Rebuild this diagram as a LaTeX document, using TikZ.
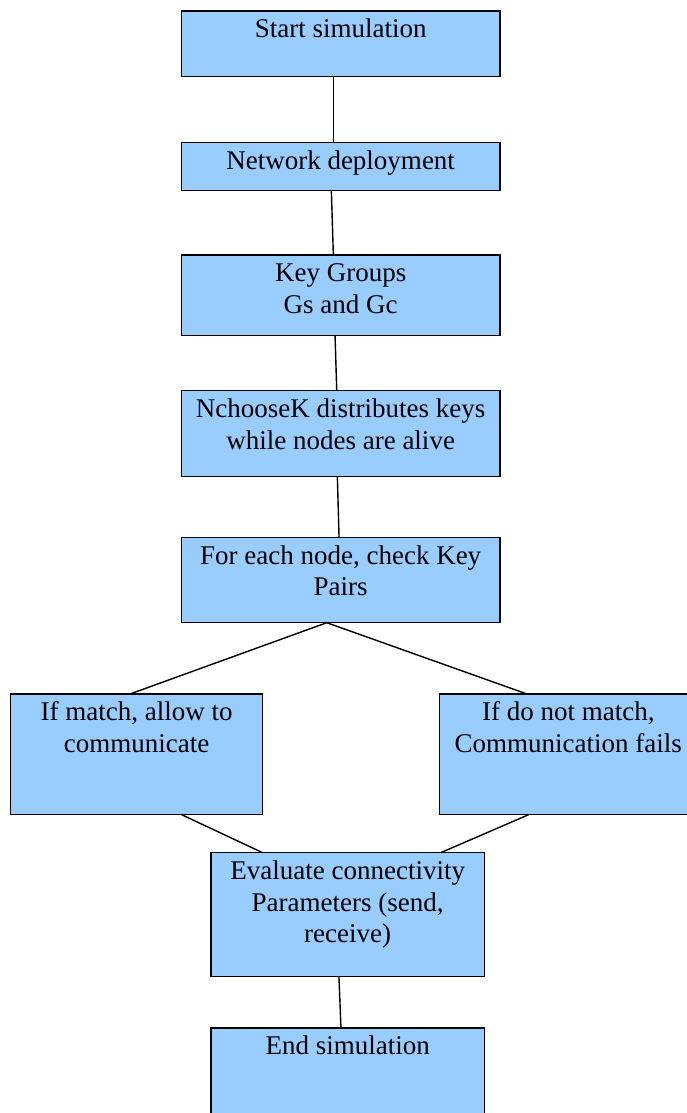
\documentclass[tikz,border=0pt]{standalone}
\usepackage{fontspec}
\setmainfont{Liberation Serif}
\definecolor{boxblue}{HTML}{99CCFF}
\newcommand{\bxt}[3]{\parbox[t][#2][t]{#1}{\centering\rule{0pt}{26.9pt}#3}}
\tikzset{
  fbox/.style={draw=black, fill=boxblue, line width=1.4pt, inner sep=0pt, outer sep=0pt,
    anchor=north west, font=\fontsize{27}{31.5}\selectfont},
  conn/.style={draw=black, line width=1.4pt}
}
\begin{document}
\begin{tikzpicture}[x=1pt,y=-1pt]
\clip (0,0) rectangle (687,1113);
\fill[white] (0,0) rectangle (687,1113);
\node[fbox] (b1) at (181.3,11) {\bxt{318.7pt}{65.7pt}{Start simulation}};
\node[fbox] (b2) at (181.3,142.7) {\bxt{318.7pt}{48pt}{Network deployment}};
\node[fbox] (b3) at (181.3,255) {\bxt{318.7pt}{80.7pt}{Key Groups\\Gs and Gc}};
\node[fbox] (b4) at (181.3,390.7) {\bxt{318.7pt}{86pt}{NchooseK distributes keys\\while nodes are alive}};
\node[fbox] (b5) at (181.3,537.3) {\bxt{318.7pt}{85.4pt}{For each node, check Key\\Pairs}};
\node[fbox] (b6) at (10.7,694) {\bxt{252pt}{120.7pt}{If match, allow to\\communicate}};
\node[fbox] (b7) at (439.3,694) {\bxt{258pt}{120.7pt}{If do not match,\\Communication fails}};
\node[fbox] (b8) at (211,852.7) {\bxt{273.3pt}{124pt}{Evaluate connectivity\\Parameters (send,\\receive)}};
\node[fbox] (b9) at (211,1028) {\bxt{273.3pt}{124pt}{End simulation}};
\draw[conn] ([xshift=-7.3pt]b1.south) -- ([xshift=-7.3pt]b2.north);
\draw[conn] ([xshift=-9.3pt]b2.south) -- ([xshift=-7.3pt]b3.north);
\draw[conn] ([xshift=-5.6pt]b3.south) -- ([xshift=-3.9pt]b4.north);
\draw[conn] ([xshift=-3.3pt]b4.south) -- ([xshift=-1.6pt]b5.north);
\draw[conn] ([xshift=-6.7pt]b6.north) -- ([xshift=-13.9pt]b5.south) -- ([xshift=-41.3pt]b7.north);
\draw[conn] ([xshift=45pt]b6.south) -- ([xshift=-85pt]b8.north);
\draw[conn] ([xshift=-39.7pt]b7.south) -- ([xshift=93pt]b8.north);
\draw[conn] ([xshift=-8.7pt]b8.south) -- ([xshift=-6.7pt]b9.north);
\end{tikzpicture}
\end{document}
